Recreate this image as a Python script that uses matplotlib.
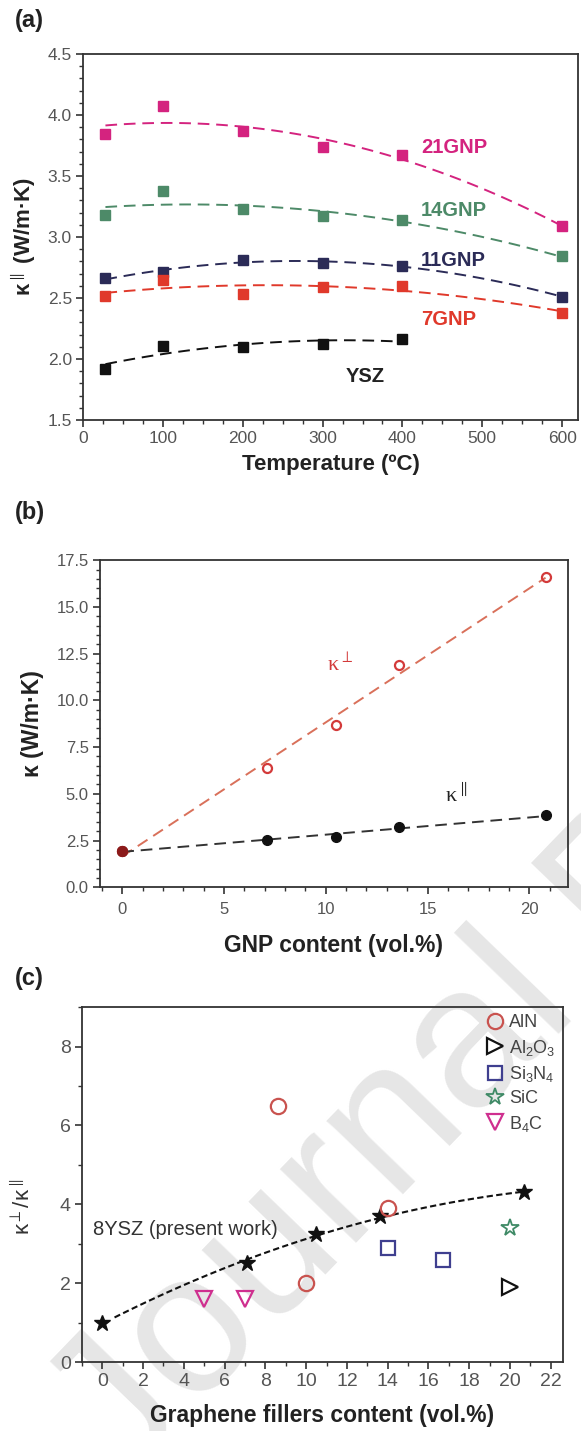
import numpy as np
import matplotlib
matplotlib.use('Agg')
import matplotlib.pyplot as plt
from matplotlib.ticker import MultipleLocator
from matplotlib import rcParams

rcParams['font.family'] = ['Liberation Sans', 'DejaVu Sans']
rcParams['mathtext.fontset'] = 'custom'
rcParams['mathtext.rm'] = 'Liberation Sans'
rcParams['mathtext.it'] = 'Liberation Sans:italic'
rcParams['mathtext.bf'] = 'Liberation Sans:bold'

# ---- (a) k_parallel vs temperature
temps = [28, 100, 200, 300, 400, 600]
k_21gnp = [3.84, 4.07, 3.87, 3.74, 3.67, 3.09]
k_14gnp = [3.18, 3.38, 3.23, 3.17, 3.14, 2.84]
k_11gnp = [2.66, 2.71, 2.81, 2.79, 2.76, 2.51]
k_7gnp = [2.52, 2.65, 2.53, 2.59, 2.60, 2.38]
temps_ysz = [28, 100, 200, 300, 400]
k_ysz = [1.92, 2.11, 2.10, 2.12, 2.16]

# ---- (b) k vs GNP content
gnp = [0, 7.1, 10.5, 13.6, 20.8]
k_perp = [1.95, 6.4, 8.7, 11.9, 16.6]
k_par = [1.95, 2.55, 2.7, 3.2, 3.85]

# ---- (c) anisotropy ratio vs filler content
ysz_x = [0, 7.1, 10.5, 13.6, 20.7]
ysz_r = [1.0, 2.5, 3.25, 3.7, 4.3]
aln_x = [8.6, 10.0, 14.0]
aln_r = [6.5, 2.0, 3.9]
al2o3_x = [20.0]
al2o3_r = [1.9]
si3n4_x = [14.0, 16.7]
si3n4_r = [2.9, 2.6]
sic_x = [20.0]
sic_r = [3.4]
b4c_x = [5.0, 7.0]
b4c_r = [1.6, 1.6]

tick_col = '#555555'
lab_col = '#222222'
dash = (0, (6, 3.5))


def style_axes(ax, lsize):
    for s in ax.spines.values():
        s.set_linewidth(1.3)
        s.set_color('#333333')
    ax.tick_params(which='both', direction='out', top=False, right=False,
                   color='#333333', labelcolor=tick_col, labelsize=lsize)
    ax.tick_params(which='major', length=5, width=1.2, pad=3)
    ax.tick_params(which='minor', length=3, width=1.0)
    ax.set_facecolor('none')


fig = plt.figure(figsize=(5.81, 14.31), dpi=100)

# watermark
fig.text(0.21, -0.0384, 'Journal Pre-proof', rotation=46, rotation_mode='anchor',
         fontsize=145, color='#e6e6e6', ha='left', va='baseline', zorder=-5)

# ---------------- (a)
ax1 = fig.add_axes([0.143, 0.7065, 0.852, 0.2558])
series = [(k_21gnp, '#d4237f', '21GNP', 3.73),
          (k_14gnp, '#4d8a68', '14GNP', 3.22),
          (k_11gnp, '#2b2b57', '11GNP', 2.81),
          (k_7gnp, '#e0392b', '7GNP', 2.32)]
for vals, col, name, ly in series:
    c = np.polyfit(temps, vals, 2)
    xs = np.linspace(temps[0], temps[-1], 100)
    ax1.plot(xs, np.polyval(c, xs), ls=dash, color=col, lw=1.4, zorder=2)
    ax1.plot(temps, vals, 's', color=col, ms=7, zorder=3)
    ax1.text(423, ly, name, color=col, fontsize=14.5, fontweight='bold', va='center')
c = np.polyfit(temps_ysz, k_ysz, 2)
xs = np.linspace(temps_ysz[0], temps_ysz[-1], 100)
ax1.plot(xs, np.polyval(c, xs), ls=dash, color='#111111', lw=1.4, zorder=2)
ax1.plot(temps_ysz, k_ysz, 's', color='#111111', ms=7, zorder=3)
ax1.text(354, 1.86, 'YSZ', color='#222222', fontsize=14.5, fontweight='bold',
         ha='center', va='center')
ax1.set_xlim(0, 620)
ax1.set_ylim(1.5, 4.5)
ax1.xaxis.set_major_locator(MultipleLocator(100))
ax1.xaxis.set_minor_locator(MultipleLocator(25))
ax1.yaxis.set_major_locator(MultipleLocator(0.5))
ax1.yaxis.set_minor_locator(MultipleLocator(0.1))
ax1.yaxis.set_major_formatter(plt.FormatStrFormatter('%.1f'))
style_axes(ax1, 12.5)
ax1.set_xlabel('Temperature (ºC)', fontsize=16, fontweight='bold', color=lab_col)
ax1.set_ylabel(r'κ$^{\parallel}$ (W/m·K)', fontsize=16, fontweight='bold', color=lab_col)
ax1.xaxis.set_label_coords(0.5, -0.093)
ax1.yaxis.set_label_coords(-0.091, 0.5)
fig.text(0.025, 1 - 20 / 1431, '(a)', fontsize=17, fontweight='bold', va='center', color='#222222')

# ---------------- (b)
ax2 = fig.add_axes([0.172, 0.380, 0.8055, 0.2285])
c = np.polyfit(gnp, k_perp, 1)
xs = np.array([gnp[0], gnp[-1]])
ax2.plot(xs, np.polyval(c, xs), ls=dash, color='#d9705a', lw=1.4, zorder=2)
c = np.polyfit(gnp, k_par, 1)
ax2.plot(xs, np.polyval(c, xs), ls=dash, color='#333333', lw=1.4, zorder=2)
ax2.plot(gnp, k_par, 'o', color='#111111', ms=7, zorder=3)
ax2.plot(gnp, k_perp, 'o', mfc='none', mec='#d33a3a', mew=1.6, ms=6.5, zorder=4)
ax2.plot(gnp[:1], k_perp[:1], 'o', color='#8b1a1a', ms=7, zorder=5)
ax2.text(10.7, 11.9, r'κ$^{\perp}$', color='#d33a3a', fontsize=16, ha='center',
         va='center', family='Liberation Serif')
ax2.text(16.4, 4.9, r'κ$^{\parallel}$', color='#222222', fontsize=16, ha='center',
         va='center', family='Liberation Serif')
ax2.set_xlim(-1.1, 21.9)
ax2.set_ylim(0, 17.5)
ax2.xaxis.set_major_locator(MultipleLocator(5))
ax2.xaxis.set_minor_locator(MultipleLocator(1))
ax2.yaxis.set_major_locator(MultipleLocator(2.5))
ax2.yaxis.set_minor_locator(MultipleLocator(0.5))
ax2.yaxis.set_major_formatter(plt.FormatStrFormatter('%.1f'))
style_axes(ax2, 12)
ax2.tick_params(axis='x', which='major', pad=6)
ax2.set_xlabel('GNP content (vol.%)', fontsize=16.5, fontweight='bold', color=lab_col)
ax2.set_ylabel(r'κ (W/m·K)', fontsize=16.5, fontweight='bold', color=lab_col)
ax2.xaxis.set_label_coords(0.5, -0.144)
ax2.yaxis.set_label_coords(-0.12, 0.5)
fig.text(0.025, 1 - 513 / 1431, '(b)', fontsize=17, fontweight='bold', va='center', color='#222222')

# ---------------- (c)
ax3 = fig.add_axes([0.141, 0.0482, 0.828, 0.248])
c = np.polyfit(ysz_x, ysz_r, 2)
xs = np.linspace(0.6, ysz_x[-1], 100)
ax3.plot(xs, np.polyval(c, xs), ls=(0, (3, 1.6)), color='#111111', lw=1.5, zorder=2)
ax3.plot(ysz_x, ysz_r, '*', color='#111111', ms=12, zorder=3)
ax3.plot(aln_x, aln_r, 'o', mfc='none', mec='#c9534f', mew=1.6, ms=11, label='AlN', zorder=3)
ax3.plot(al2o3_x, al2o3_r, '>', mfc='none', mec='#111111', mew=1.6, ms=11,
         label=r'Al$_2$O$_3$', zorder=3)
ax3.plot(si3n4_x, si3n4_r, 's', mfc='none', mec='#3f3f8f', mew=1.6, ms=9.5,
         label=r'Si$_3$N$_4$', zorder=3)
ax3.plot(sic_x, sic_r, '*', mfc='none', mec='#3f8a66', mew=1.3, ms=13, label='SiC', zorder=3)
ax3.plot(b4c_x, b4c_r, 'v', mfc='none', mec='#cf2f8f', mew=1.6, ms=12,
         label=r'B$_4$C', zorder=3)
ax3.text(-0.45, 3.35, '8YSZ (present work)', fontsize=14.5, color='#333333', va='center')
leg = ax3.legend(loc='upper right', frameon=False, fontsize=13, handletextpad=0.2,
                 labelspacing=0.35, borderaxespad=0.1, handlelength=1.2,
                 borderpad=0.3)
for t in leg.get_texts():
    t.set_color('#444444')
ax3.set_xlim(-1.0, 22.6)
ax3.set_ylim(0, 9)
ax3.xaxis.set_major_locator(MultipleLocator(2))
ax3.xaxis.set_minor_locator(MultipleLocator(1))
ax3.yaxis.set_major_locator(MultipleLocator(2))
ax3.yaxis.set_minor_locator(MultipleLocator(1))
style_axes(ax3, 14)
ax3.set_xlabel('Graphene fillers content (vol.%)', fontsize=16.5, fontweight='bold',
               color=lab_col)
ax3.set_ylabel(r'κ$^{\perp}$/κ$^{\parallel}$', fontsize=16, color='#333333')
ax3.xaxis.set_label_coords(0.5, -0.118)
ax3.yaxis.set_label_coords(-0.098, 0.437)
fig.text(0.025, 1 - 978 / 1431, '(c)', fontsize=17, fontweight='bold', va='center', color='#222222')

fig.savefig('out.png', dpi=100)
